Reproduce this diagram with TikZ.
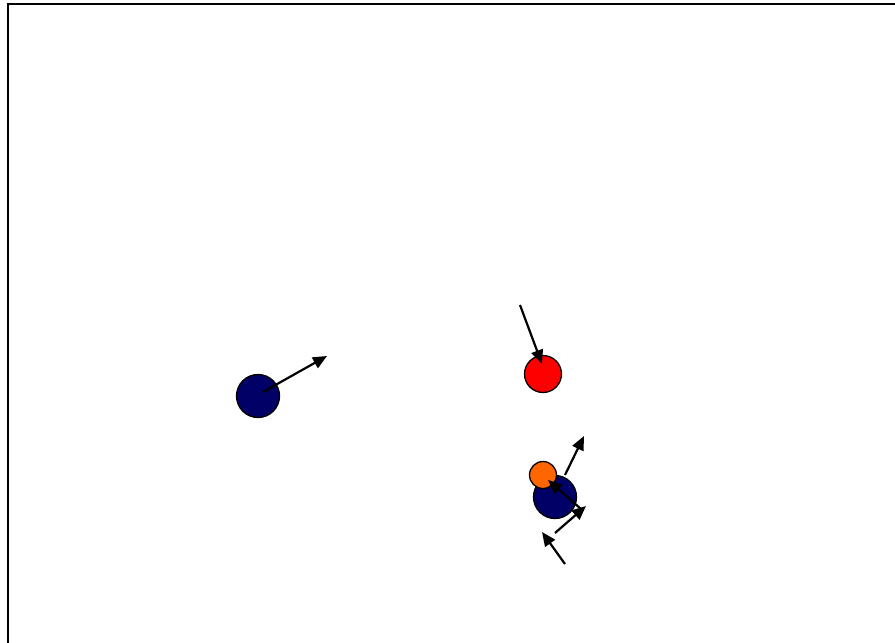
\documentclass[tikz,border=0pt]{standalone}
\usetikzlibrary{arrows.meta}
\definecolor{navyball}{RGB}{0,0,102}
\definecolor{redball}{RGB}{255,0,0}
\definecolor{orangeball}{RGB}{255,102,0}
\begin{document}
\begin{tikzpicture}[x=1pt,y=-1pt,
  ball/.style={circle,draw=black,line width=1.3pt,inner sep=0pt,minimum size=#1},
  vec/.style={line width=2.2pt,-{Triangle[length=14pt,width=12pt]}}]
\useasboundingbox (0,0) rectangle (895,643);
\draw[line width=2pt] (8,700) -- (8,4) -- (950,4);
\node[ball=43pt,fill=navyball] (b1) at (258,396) {};
\node[ball=37pt,fill=redball] (r) at (543,374) {};
\node[ball=43pt,fill=navyball] (b2) at (555,497) {};
\node[ball=27pt,fill=orangeball] (o) at (543,475) {};
\coordinate (a1s) at (263,392); \coordinate (a1e) at (327,356);
\coordinate (a2s) at (520,305); \coordinate (a2e) at (542,364);
\coordinate (a3s) at (565,475); \coordinate (a3e) at (584,436);
\coordinate (a4s) at (581,509); \coordinate (a4e) at (548,480);
\coordinate (a5s) at (555,533); \coordinate (a5e) at (586,506);
\coordinate (a6s) at (565,564); \coordinate (a6e) at (542,532);
\draw[vec] (a1s) -- (a1e);
\draw[vec] (a2s) -- (a2e);
\draw[vec] (a3s) -- (a3e);
\draw[vec] (a4s) -- (a4e);
\draw[vec] (a5s) -- (a5e);
\draw[vec] (a6s) -- (a6e);
\end{tikzpicture}
\end{document}
